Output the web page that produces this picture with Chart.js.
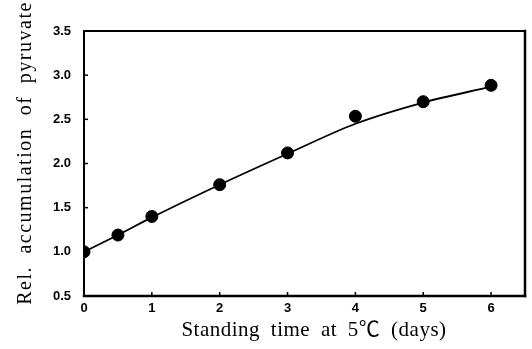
<!DOCTYPE html>
<html>
<head>
<meta charset="utf-8">
<script src="https://cdn.jsdelivr.net/npm/chart.js@4/dist/chart.umd.min.js"></script>
<style>
html,body{margin:0;padding:0;background:#fff;}
canvas{display:block;}
</style>
</head>
<body>
<canvas id="c" width="532" height="349"></canvas>
<script>
// Data
const days = [0, 0.5, 1, 2, 3, 4, 5, 6];
const pyruvate = [1.0, 1.19, 1.40, 1.76, 2.12, 2.535, 2.70, 2.885];
// fitted curve as drawn in the figure
const curveDays = [0, 0.5, 1, 2, 3, 4, 5, 6];
const curveValues = [1.0, 1.19, 1.39, 1.76, 2.11, 2.45, 2.69, 2.87];
const xTicks = [0, 1, 2, 3, 4, 5, 6];
const yTicks = [0.5, 1.0, 1.5, 2.0, 2.5, 3.0, 3.5];
const xTitle = 'Standing time at 5\u2103 (days)';
const yTitle = 'Rel. accumulation of pyruvate';

const framePlugin = {
  id: 'frame',
  beforeDraw(chart) {
    const ctx = chart.ctx;
    ctx.save();
    ctx.fillStyle = '#fff';
    ctx.fillRect(0, 0, chart.width, chart.height);
    ctx.restore();
  },
  afterDatasetsDraw(chart) {
    const {ctx, chartArea: a, scales} = chart;
    ctx.save();
    ctx.strokeStyle = '#000';
    ctx.lineCap = 'square';
    // frame
    ctx.lineWidth = 2;
    ctx.beginPath(); ctx.moveTo(a.left, a.top); ctx.lineTo(a.right, a.top); ctx.stroke();
    ctx.beginPath(); ctx.moveTo(a.left, a.top); ctx.lineTo(a.left, a.bottom); ctx.stroke();
    ctx.lineWidth = 2.5;
    ctx.beginPath(); ctx.moveTo(a.left, a.bottom); ctx.lineTo(a.right, a.bottom); ctx.stroke();
    ctx.beginPath(); ctx.moveTo(a.right, a.top); ctx.lineTo(a.right, a.bottom); ctx.stroke();
    // inward ticks
    ctx.lineWidth = 1.5;
    ctx.lineCap = 'butt';
    yTicks.forEach(v => {
      const y = scales.y.getPixelForValue(v);
      ctx.beginPath(); ctx.moveTo(a.left, y); ctx.lineTo(a.left + 4, y); ctx.stroke();
    });
    xTicks.forEach(v => {
      const x = scales.x.getPixelForValue(v);
      ctx.beginPath(); ctx.moveTo(x, a.bottom); ctx.lineTo(x, a.bottom - 4); ctx.stroke();
    });
    // axis titles
    ctx.fillStyle = '#000';
    ctx.font = '21px "Liberation Serif", "Noto Sans CJK JP", serif';
    try { ctx.letterSpacing = '0.5px'; ctx.wordSpacing = '5px'; } catch (e) {}
    ctx.textAlign = 'center';
    ctx.textBaseline = 'alphabetic';
    ctx.fillText(xTitle, 314, 336);
    ctx.translate(31, 153);
    ctx.rotate(-Math.PI / 2);
    ctx.font = '20px "Liberation Serif", "Times New Roman", serif';
    try { ctx.letterSpacing = '1.5px'; ctx.wordSpacing = '6px'; } catch (e) {}
    ctx.fillText(yTitle, 0, 0);
    ctx.restore();
  }
};

new Chart(document.getElementById('c'), {
  type: 'scatter',
  data: {
    datasets: [
      {
        type: 'line',
        data: curveDays.map((d, i) => ({x: d, y: curveValues[i]})),
        borderColor: '#000',
        borderWidth: 1.8,
        pointRadius: 0,
        cubicInterpolationMode: 'monotone',
        fill: false,
        order: 2
      },
      {
        data: days.map((d, i) => ({x: d, y: pyruvate[i]})),
        backgroundColor: '#000',
        borderColor: '#000',
        pointRadius: 6,
        pointHoverRadius: 6,
        order: 1
      }
    ]
  },
  options: {
    responsive: false,
    animation: false,
    events: [],
    layout: {padding: {left: 0, top: 31, right: 7, bottom: 0}},
    plugins: {legend: {display: false}, tooltip: {enabled: false}},
    scales: {
      x: {
        type: 'linear',
        min: 0, max: 6.5,
        grid: {display: false, drawTicks: false, tickLength: 0},
        border: {display: false},
        afterBuildTicks(s) { s.ticks = xTicks.map(v => ({value: v})); },
        afterFit(s) { s.height = 53; },
        ticks: {
          color: '#000',
          padding: 5,
          maxRotation: 0,
          font: {family: '"Liberation Sans", Arial, sans-serif', size: 13, weight: 'bold'},
          callback: v => String(v)
        }
      },
      y: {
        type: 'linear',
        min: 0.5, max: 3.5,
        grid: {display: false, drawTicks: false, tickLength: 0},
        border: {display: false},
        afterBuildTicks(s) { s.ticks = yTicks.map(v => ({value: v})); },
        afterFit(s) { s.width = 84; },
        ticks: {
          color: '#000',
          padding: 13,
          font: {family: '"Liberation Sans", Arial, sans-serif', size: 13, weight: 'bold'},
          callback: v => Number(v).toFixed(1)
        }
      }
    }
  },
  plugins: [framePlugin]
});
</script>
</body>
</html>
